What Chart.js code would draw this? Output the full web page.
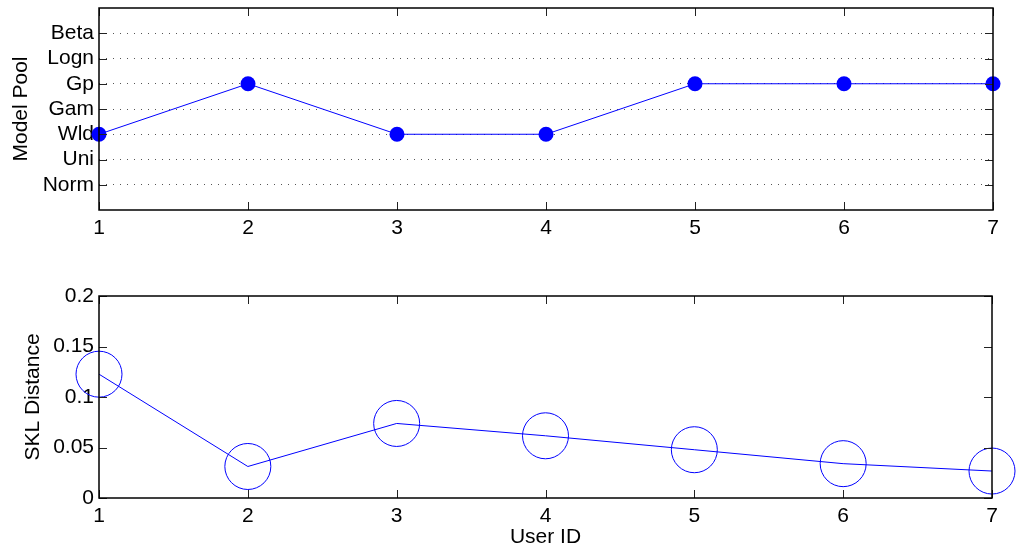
<!DOCTYPE html>
<html><head><meta charset="utf-8">
<script src="https://cdn.jsdelivr.net/npm/chart.js@4/dist/chart.umd.min.js"></script>
<style>
html,body{margin:0;padding:0;background:#fff;}
#wrap{position:relative;width:1016px;height:555px;}
#c1{position:absolute;left:0;top:0;}
#c2{position:absolute;left:0;top:260px;}
</style></head>
<body><div id="wrap">
<canvas id="c1" width="1016" height="250"></canvas>
<canvas id="c2" width="1016" height="295"></canvas>
</div>
<script>
const userIds = [1, 2, 3, 4, 5, 6, 7];
const models = ['Norm', 'Uni', 'Wld', 'Gam', 'Gp', 'Logn', 'Beta'];
const selectedModel = ['Wld', 'Gp', 'Wld', 'Wld', 'Gp', 'Gp', 'Gp'];
const sklDistance = [0.1226, 0.0312, 0.0738, 0.0616, 0.0478, 0.034, 0.0267];
const sklTicks = [0, 0.05, 0.1, 0.15, 0.2];

const FONT = {family: '"Liberation Sans", Arial, Helvetica, sans-serif', size: 21};
const BLUE = '#0000ff';

const framePlugin = {
  id: 'frame',
  afterDraw(chart) {
    const {ctx, chartArea: a, scales} = chart;
    const x = scales.x, y = scales.y;
    const L = 8;
    ctx.save();
    ctx.strokeStyle = '#222';
    ctx.lineWidth = 1;
    ctx.beginPath();
    x.ticks.forEach(t => {
      const px = Math.round(x.getPixelForValue(t.value)) + 0.5;
      ctx.moveTo(px, a.bottom); ctx.lineTo(px, a.bottom - L);
      ctx.moveTo(px, a.top); ctx.lineTo(px, a.top + L);
    });
    y.ticks.forEach(t => {
      const py = Math.round(y.getPixelForValue(t.value)) + 0.5;
      ctx.moveTo(a.left, py); ctx.lineTo(a.left + L, py);
      ctx.moveTo(a.right, py); ctx.lineTo(a.right - L, py);
    });
    ctx.stroke();
    ctx.strokeStyle = '#000';
    ctx.lineWidth = 1.5;
    ctx.strokeRect(Math.round(a.left), Math.round(a.top), Math.round(a.right - a.left), Math.round(a.bottom - a.top));
    ctx.restore();
  }
};

function zeroPad(s) { s.paddingTop = 0; s.paddingBottom = 0; s.paddingLeft = 0; s.paddingRight = 0; }

function xAxis(height, title) {
  return {
    type: 'linear', min: 1, max: 7,
    afterBuildTicks: s => { s.ticks = userIds.map(v => ({value: v})); },
    afterFit: s => { s.height = height; zeroPad(s); },
    grid: {display: false, drawTicks: false},
    border: {display: false},
    ticks: {color: '#000', font: FONT, padding: 6, maxRotation: 0, callback: v => String(v)},
    title: title ? {display: true, text: title, color: '#000', font: FONT, padding: {top: 0, bottom: 5}} : {display: false}
  };
}

new Chart(document.getElementById('c1'), {
  type: 'line',
  data: {
    datasets: [{
      data: userIds.map((u, i) => ({x: u, y: models.indexOf(selectedModel[i]) + 1})),
      borderColor: BLUE, borderWidth: 1, backgroundColor: BLUE,
      pointRadius: 7.5, pointBackgroundColor: BLUE, pointBorderColor: BLUE, pointBorderWidth: 0,
      tension: 0, clip: false
    }]
  },
  options: {
    responsive: false, animation: false, events: [],
    layout: {padding: {left: 0, right: 23, top: 8, bottom: 0}},
    plugins: {legend: {display: false}, tooltip: {enabled: false}},
    scales: {
      x: xAxis(40, null),
      y: {
        type: 'linear', min: 0, max: 8,
        afterBuildTicks: s => { s.ticks = models.map((m, i) => ({value: i + 1})); },
        afterFit: s => { s.width = 99; zeroPad(s); },
        grid: {display: true, drawTicks: false, color: '#555', lineWidth: 1},
        border: {display: false, dash: [1, 6]},
        ticks: {color: '#000', font: FONT, padding: 5, callback: v => models[v - 1]},
        title: {display: true, text: 'Model Pool', color: '#000', font: FONT, padding: {top: 8.5, bottom: 0}}
      }
    }
  },
  plugins: [framePlugin]
});

new Chart(document.getElementById('c2'), {
  type: 'line',
  data: {
    datasets: [{
      data: userIds.map((u, i) => ({x: u, y: sklDistance[i]})),
      borderColor: BLUE, borderWidth: 1, backgroundColor: 'transparent',
      pointRadius: 23, pointBackgroundColor: 'transparent', pointBorderColor: BLUE, pointBorderWidth: 1,
      tension: 0, clip: false
    }]
  },
  options: {
    responsive: false, animation: false, events: [],
    layout: {padding: {left: 0, right: 23, top: 36, bottom: 0}},
    plugins: {legend: {display: false}, tooltip: {enabled: false}},
    scales: {
      x: xAxis(57, 'User ID'),
      y: {
        type: 'linear', min: 0, max: 0.2,
        afterBuildTicks: s => { s.ticks = sklTicks.map(v => ({value: v})); },
        afterFit: s => { s.width = 99; zeroPad(s); },
        grid: {display: false, drawTicks: false},
        border: {display: false},
        ticks: {color: '#000', font: FONT, padding: 5, callback: v => String(+v.toFixed(2))},
        title: {display: true, text: 'SKL Distance', color: '#000', font: FONT, padding: {top: 20.4, bottom: 0}}
      }
    }
  },
  plugins: [framePlugin]
});
</script>
</body></html>
